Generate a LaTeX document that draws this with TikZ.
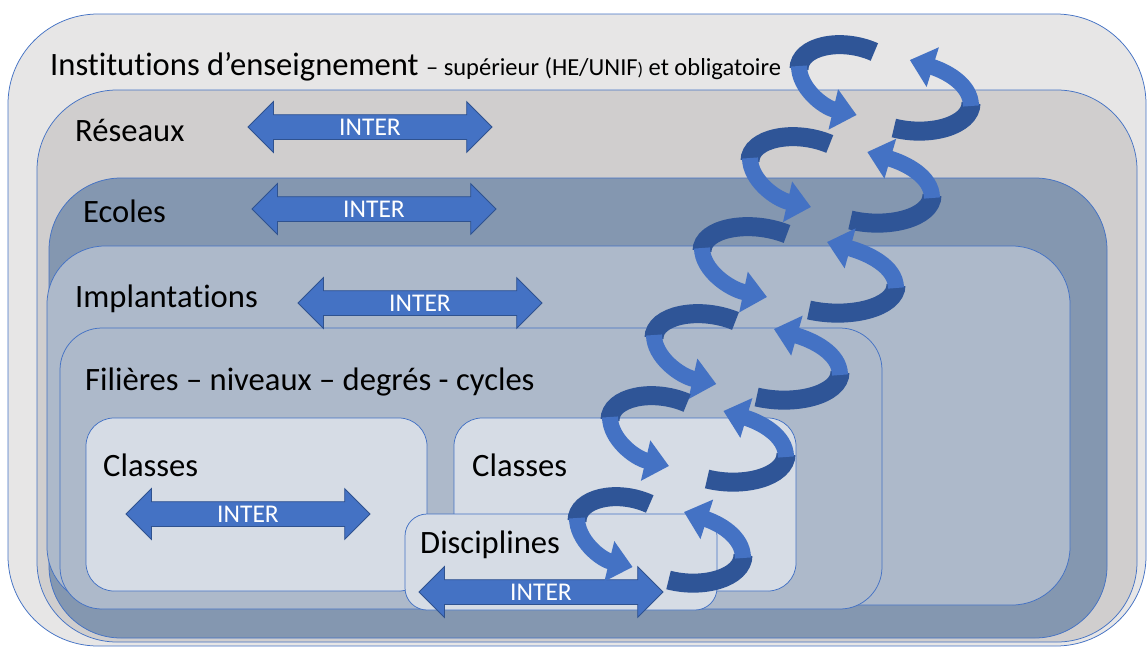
\documentclass[tikz,border=0pt]{standalone}
\usepackage{fontspec}
\setmainfont{Carlito}[Ligatures={NoCommon,NoContextual}]
\usetikzlibrary{arrows.meta,shapes.arrows}

\definecolor{instgray}{HTML}{E7E6E6}
\definecolor{resgray}{HTML}{D0CECE}
\definecolor{ecoslate}{HTML}{8497B0}
\definecolor{implblue}{HTML}{ADB9CA}
\definecolor{classpale}{HTML}{D6DCE5}
\definecolor{boxline}{HTML}{4472C4}
\definecolor{interblue}{HTML}{4472C4}
\definecolor{interline}{HTML}{2F528F}
\definecolor{helixdark}{HTML}{2F5597}
\definecolor{helixlight}{HTML}{4472C4}

\begin{document}
\begin{tikzpicture}[x=1pt,y=-1pt,
  box/.style={draw=boxline,line width=0.75pt},
  lbl/.style={anchor=base west,inner sep=0pt,font=\fontsize{32.6}{38}\selectfont},
  inter/.style={double arrow,double arrow head extend=13pt,minimum height=244pt,
    minimum width=50pt,inner xsep=2pt,inner ysep=4pt,text height=16pt,text depth=0pt,
    fill=interblue,draw=interline,line width=0.75pt,text=white,font=\fontsize{25.5}{30}\selectfont},
  back/.style={draw=helixdark,line width=19pt},
  front/.style={draw=helixlight,line width=16pt,-{Triangle[length=24pt,width=40pt]}}]
\useasboundingbox (0,0) rectangle (1148,648);

% nested levels
\draw[box,fill=instgray,rounded corners=90pt] (8,14) rectangle (1146,646);
\draw[box,fill=resgray,rounded corners=80pt] (37,90) rectangle (1137,642);
\draw[box,fill=ecoslate,rounded corners=72pt] (49,178) rectangle (1107,638);
\draw[box,fill=implblue,rounded corners=58pt] (47,246) rectangle (1070,605);
\draw[box,fill=implblue,rounded corners=42pt] (60,328) rectangle (882,609);
\draw[box,fill=classpale,rounded corners=28pt] (86,418) rectangle (427,591);
\draw[box,fill=classpale,rounded corners=28pt] (454,418) rectangle (796,591);
\draw[box,fill=classpale,rounded corners=22pt] (405,514) rectangle (717,610);

% labels
\node[lbl] (instLabel) at (50,75) {Institutions d’enseignement {\fontsize{24.5}{28}\selectfont – supérieur (HE/UNIF{\fontsize{18}{20}\selectfont)} et obligatoire}};
\node[lbl] (resLabel) at (75,141) {Réseaux};
\node[lbl] (ecoLabel) at (83,222) {Ecoles};
\node[lbl] (implLabel) at (75,307) {Implantations};
\node[lbl] (filLabel) at (85,390) {Filières – niveaux – degrés - cycles};
\node[lbl] (classLabelA) at (103,476) {Classes};
\node[lbl] (classLabelB) at (472,476) {Classes};
\node[lbl] (discLabel) at (420,553) {Disciplines};

% inter arrows
\node[inter] (resInter) at (370,127) {INTER};
\node[inter] (ecoInter) at (374,209) {INTER};
\node[inter] (implInter) at (420,303) {INTER};
\node[inter] (classInter) at (248,514) {INTER};
\node[inter] (discInter) at (541,592) {INTER};

% helix
\foreach \n/\cx/\cy/\w in {1/885/86/86,2/841/178/91,3/799/268/97,4/747/355/93,5/698/437/88,6/660/538/83} {
  \coordinate (turn\n) at (\cx,\cy);
  \begin{scope}[shift={(turn\n)},xscale={\w/97}]
    \draw[back] (-12,-34) .. controls (-50,-49) and (-97,-40) .. (-97,-17);
    \draw[front] (-97,-20) .. controls (-97,2) and (-70,21) .. (-32,29);
    \draw[back] (10,42) .. controls (50,51) and (97,40) .. (97,17);
    \draw[front] (97,20) .. controls (97,-2) and (68,-15) .. (28,-26);
  \end{scope}
}
\end{tikzpicture}
\end{document}
